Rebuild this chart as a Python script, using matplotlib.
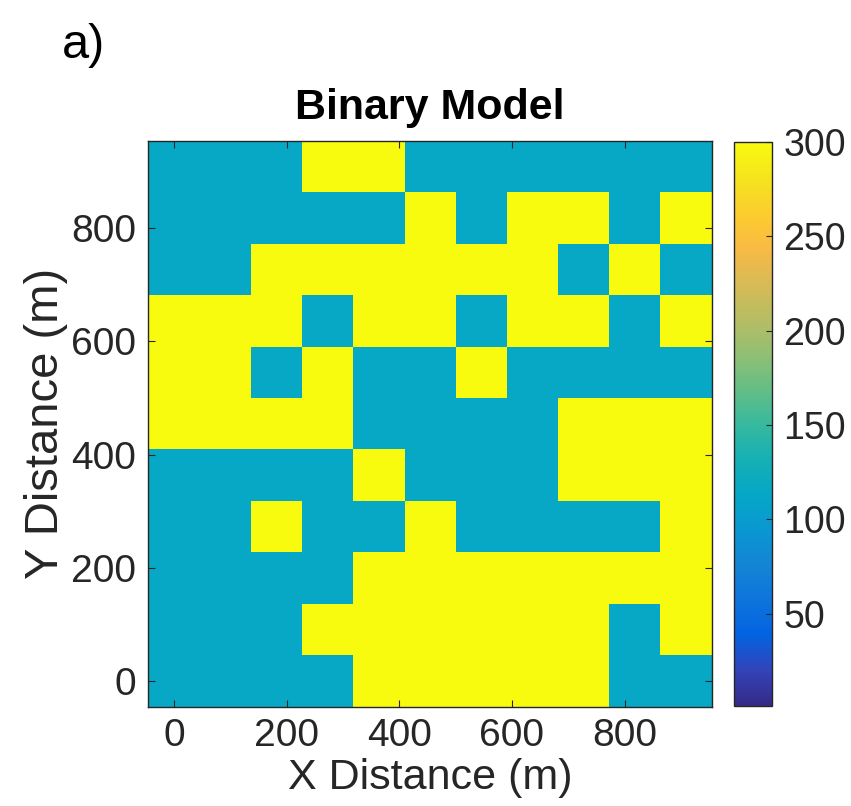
"""Binary Model haritası (MATLAB imagesc + parula görünümü)."""
import matplotlib

matplotlib.use("Agg")
import matplotlib.pyplot as plt
import numpy as np
from matplotlib.colors import LinearSegmentedColormap

plt.rcParams["font.family"] = ["Liberation Sans", "DejaVu Sans"]

# hücre merkezleri (m)
x_merkez = [0, 91, 182, 273, 364, 455, 545, 636, 727, 818, 909]
y_merkez = [0, 91, 182, 273, 364, 455, 545, 636, 727, 818, 909]

# iki değerli model: düşük ve yüksek değer
D, Y = 115, 300
# satırlar yukarıdan aşağıya
model = [
    [D, D, D, Y, Y, D, D, D, D, D, D],
    [D, D, D, D, D, Y, D, Y, Y, D, Y],
    [D, D, Y, Y, Y, Y, Y, Y, D, Y, D],
    [Y, Y, Y, D, Y, Y, D, Y, Y, D, Y],
    [Y, Y, D, Y, D, D, Y, D, D, D, D],
    [Y, Y, Y, Y, D, D, D, D, Y, Y, Y],
    [D, D, D, D, Y, D, D, D, Y, Y, Y],
    [D, D, Y, D, D, Y, D, D, D, D, Y],
    [D, D, D, D, Y, Y, Y, Y, Y, Y, Y],
    [D, D, D, Y, Y, Y, Y, Y, Y, D, Y],
    [D, D, D, D, Y, Y, Y, Y, Y, D, D],
]
renk_sinir = (1, 300)
cb_tikler = [50, 100, 150, 200, 250, 300]
x_tikler = [0, 200, 400, 600, 800]
y_tikler = [0, 200, 400, 600, 800]

# parula yaklaşımı (64'lük tablodan seçilmiş noktalar)
parula_noktalar = [
    (0.2081, 0.1663, 0.5292), (0.1959, 0.2645, 0.7279), (0.0117, 0.3875, 0.8820),
    (0.0498, 0.4586, 0.8641), (0.0793, 0.5200, 0.8312), (0.0343, 0.5966, 0.8199),
    (0.0228, 0.6535, 0.7768), (0.0843, 0.6928, 0.7062), (0.2178, 0.7250, 0.6193),
    (0.3953, 0.7459, 0.5244), (0.5709, 0.7485, 0.4494), (0.7184, 0.7411, 0.3905),
    (0.8507, 0.7299, 0.3360), (0.9739, 0.7314, 0.2666), (0.9880, 0.8066, 0.1794),
    (0.9589, 0.8949, 0.1132), (0.9763, 0.9831, 0.0538),
]
parula = LinearSegmentedColormap.from_list("parula", parula_noktalar, N=256)

koyu = (0.15, 0.15, 0.15)

fig = plt.figure(figsize=(8.51, 8.06), dpi=100)
ax = fig.add_axes([0.1743, 0.1232, 0.662, 0.7022])
cax = fig.add_axes([0.8625, 0.124, 0.0452, 0.700])

veri = np.array(model)[::-1]
mesh = ax.pcolormesh(x_merkez, y_merkez, veri, cmap=parula,
                     vmin=renk_sinir[0], vmax=renk_sinir[1], shading="nearest")

ax.set_xticks(x_tikler)
ax.set_yticks(y_tikler)
ax.tick_params(direction="in", length=5, width=0.8, top=True, right=True,
               labelsize=28, colors=koyu, labelcolor=koyu)
ax.tick_params(axis="y", pad=9)
ax.tick_params(axis="x", pad=8)
for s in ax.spines.values():
    s.set_color(koyu)
    s.set_linewidth(1.0)

ax.set_title("Binary Model", fontsize=31, fontweight="bold", pad=16)
ax.set_xlabel("X Distance (m)", fontsize=31, color=koyu, labelpad=3)
ax.set_ylabel("Y Distance (m)", fontsize=34, color=koyu, labelpad=2)

cb = fig.colorbar(mesh, cax=cax, ticks=cb_tikler)
cb.outline.set_edgecolor(koyu)
cb.outline.set_linewidth(1.0)
cax.tick_params(direction="in", length=4, width=0.8, labelsize=27,
                colors=koyu, labelcolor=koyu, pad=8)

fig.text(0.073, 0.944, "a)", fontsize=35, va="center", ha="left")

fig.savefig("out.png", dpi=100)
